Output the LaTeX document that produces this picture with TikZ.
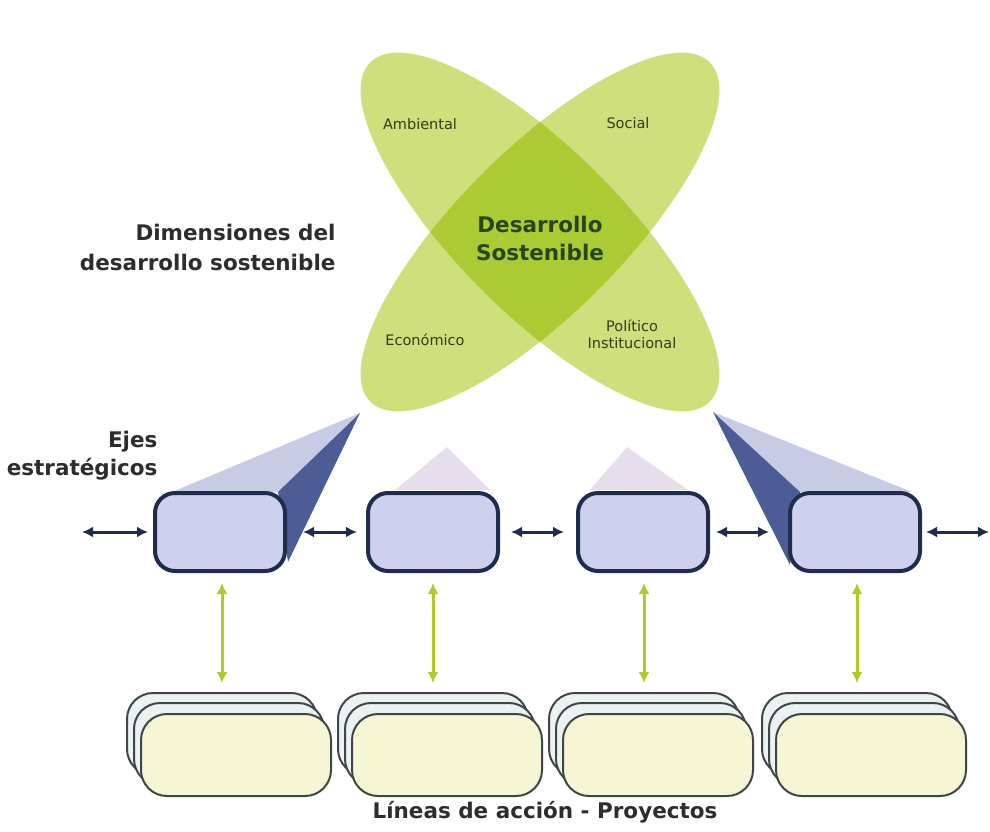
\documentclass[tikz,border=0pt]{standalone}
\usepackage{fontspec}
\setmainfont{DejaVu Sans}
\usetikzlibrary{arrows.meta}
\definecolor{petal}{RGB}{206,223,124}
\definecolor{core}{RGB}{172,202,52}
\definecolor{navy}{RGB}{32,44,78}
\definecolor{ejefill}{RGB}{205,209,238}
\definecolor{conelight}{RGB}{200,203,228}
\definecolor{conedark}{RGB}{78,92,150}
\definecolor{conefaint}{RGB}{230,222,236}
\definecolor{arrowgreen}{RGB}{172,204,40}
\definecolor{projfill}{RGB}{246,245,212}
\definecolor{projback}{RGB}{234,243,241}
\definecolor{projline}{RGB}{64,70,72}
\definecolor{labelgray}{RGB}{45,45,45}
\definecolor{petaltext}{RGB}{50,62,20}
\definecolor{coretext}{RGB}{40,70,25}
\begin{document}
\begin{tikzpicture}[x=1pt,y=-1pt,
 eje/.style={draw=navy, line width=4pt, fill=ejefill, rounded corners=20pt, minimum width=130pt, minimum height=78pt, inner sep=0pt},
 proj/.style={draw=projline, line width=2pt, fill=projfill, rounded corners=26pt, minimum width=190pt, minimum height=82pt, inner sep=0pt},
 projb/.style={proj, fill=projback},
 harrow/.style={navy, line width=3pt, {Latex[length=11pt,width=11pt]}-{Latex[length=11pt,width=11pt]}, shorten <=7pt, shorten >=7pt},
 varrow/.style={arrowgreen, line width=3pt, {Latex[length=11pt,width=11pt]}-{Latex[length=11pt,width=11pt]}, shorten <=10pt, shorten >=9pt},
 side/.style={font=\bfseries\fontsize{21.5}{30}\selectfont, text=labelgray, align=right},
 ptext/.style={font=\fontsize{14.5}{17}\selectfont, text=petaltext, align=center},
 coretxt/.style={font=\bfseries\fontsize{21.5}{28}\selectfont, text=coretext, align=center},
]
\useasboundingbox (0,0) rectangle (990,831);
\fill[white] (0,0) rectangle (990,831);

% flower
\coordinate (fc) at (540,232);
\fill[petal, rotate around={-45:(fc)}] (fc) ellipse [x radius=240pt, y radius=82pt];
\fill[petal, rotate around={45:(fc)}] (fc) ellipse [x radius=240pt, y radius=82pt];
\begin{scope}
\clip[rotate around={-45:(fc)}] (fc) ellipse [x radius=240pt, y radius=82pt];
\fill[core, rotate around={45:(fc)}] (fc) ellipse [x radius=240pt, y radius=82pt];
\end{scope}
\node[ptext] (amb) at (420,124) {Ambiental};
\node[ptext] (soc) at (628,123) {Social};
\node[ptext] (eco) at (425,340) {Económico};
\node[ptext] (pol) at (632,334) {Político\\Institucional};
\node[coretxt] (ds) at (540,238) {Desarrollo\\Sostenible};

% labels
\node[side, anchor=east] (dim) at (339,247) {Dimensiones del\\desarrollo sostenible};
\node[side, anchor=east, font=\bfseries\fontsize{21.5}{28}\selectfont] (ejes) at (161,456) {Ejes\\estratégicos};
\node[font=\bfseries\fontsize{21.5}{26}\selectfont, text=labelgray] (lin) at (545,812) {Líneas de acción - Proyectos};

% cone tips
\coordinate (t1) at (360,413);
\coordinate (t2) at (447,447);
\coordinate (t3) at (627,447);
\coordinate (t4) at (713,412);

% boxes positions (for cone geometry)
\path (220,532) coordinate (c1) (433,532) coordinate (c2) (643,532) coordinate (c3) (855,532) coordinate (c4);

% cones
\fill[conelight] (t1) -- (172,492) -- (283,492) -- cycle;
\fill[conedark] (t1) -- (278,492) -- (288,562) -- cycle;
\fill[conefaint] (t2) -- (395,490) -- (490,490) -- cycle;
\fill[conefaint] (t3) -- (590,490) -- (688,490) -- cycle;
\fill[conelight] (t4) -- (798,492) -- (912,492) -- cycle;
\fill[conedark] (t4) -- (800,492) -- (790,565) -- cycle;

% ejes
\node[eje] (e1) at (c1) {};
\node[eje] (e2) at (c2) {};
\node[eje] (e3) at (c3) {};
\node[eje] (e4) at (c4) {};

% horizontal arrows
\coordinate (l0) at (82,532);
\coordinate (r0) at (989,532);
\draw[harrow, shorten <=0pt, shorten >=5pt] (l0) -- (e1.west);
\draw[harrow, shorten <=16pt, shorten >=9pt] (e1.east) -- (e2.west);
\draw[harrow, shorten <=11pt, shorten >=12pt] (e2.east) -- (e3.west);
\draw[harrow, shorten <=6pt, shorten >=19pt] (e3.east) -- (e4.west);
\draw[harrow, shorten <=4pt, shorten >=0pt] (e4.east) -- (r0);

% project stacks
\node[projb] (b1) at (222,734) {};
\node[projb] (m1) at (229,744) {};
\node[proj]  (f1) at (236,755) {};
\node[projb] (b2) at (433,734) {};
\node[projb] (m2) at (440,744) {};
\node[proj]  (f2) at (447,755) {};
\node[projb] (b3) at (644,734) {};
\node[projb] (m3) at (651,744) {};
\node[proj]  (f3) at (658,755) {};
\node[projb] (b4) at (857,734) {};
\node[projb] (m4) at (864,744) {};
\node[proj]  (f4) at (871,755) {};

% vertical arrows
\draw[varrow] (e1.south -| b1.north) -- (b1.north);
\draw[varrow] (e2.south -| b2.north) -- (b2.north);
\draw[varrow] (e3.south -| b3.north) -- (b3.north);
\draw[varrow] (e4.south -| b4.north) -- (b4.north);
\end{tikzpicture}
\end{document}
